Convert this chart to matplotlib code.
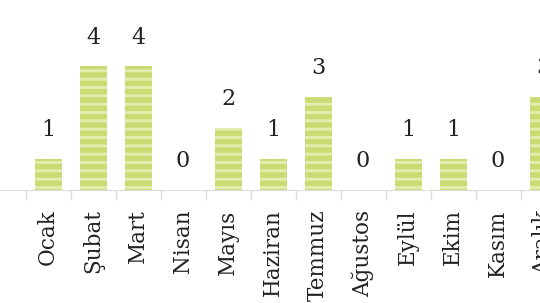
import matplotlib
matplotlib.use("Agg")
import matplotlib.pyplot as plt
import matplotlib.transforms as mtransforms
import numpy as np

months = ["Ocak", "Şubat", "Mart", "Nisan", "Mayıs", "Haziran", "Temmuz",
          "Ağustos", "Eylül", "Ekim", "Kasım", "Aralık"]
counts = [1, 4, 4, 0, 2, 1, 3, 0, 1, 1, 0, 3]

plt.rcParams['font.family'] = ['DejaVu Serif']
plt.rcParams['hatch.linewidth'] = 2.0
plt.rcParams['hatch.color'] = '#e4edb0'
plt.rcParams['savefig.bbox'] = 'standard'

fig = plt.figure(figsize=(5.4, 3.03), dpi=100)
ax = fig.add_axes([0, 0.373, 1, 0.627])
x = np.arange(len(months))
bars = ax.bar(x, counts, width=0.6, color='#c9db72', edgecolor='#e4edb0',
              linewidth=0, hatch='--')
for xi, v in zip(x, counts):
    t = ax.text(xi, v + 0.92, str(v), ha='center', va='center', fontsize=16,
                color='#222222', clip_on=True)
    t.set_clip_box(fig.bbox)
    t.set_in_layout(False)

# category labels drawn as texts under the axis (clipped at the figure edge)
lab_tr = mtransforms.blended_transform_factory(
    ax.transData,
    ax.transAxes + mtransforms.ScaledTranslation(0, -14 / 72, fig.dpi_scale_trans))
for xi, m in zip(x, months):
    t = ax.text(xi, 0, m, transform=lab_tr, rotation=90, ha='center', va='top',
                fontsize=15.5, color='#222222', clip_on=True)
    t.set_clip_box(fig.bbox)
    t.set_in_layout(False)

ax.set_xlim(-1.067, 10.933)
ax.set_ylim(0, 6.13)
for s in ['top', 'right', 'left']:
    ax.spines[s].set_visible(False)
ax.spines['bottom'].set_color('#dddddd')
ax.set_yticks([])
ax.set_xticks([])
ax.set_xticks(np.arange(-0.5, 11, 1), minor=True)
ax.tick_params(axis='x', which='minor', length=7, color='#dddddd', width=1,
               labelbottom=False)

fig.savefig("out.png", dpi=100, bbox_inches=None)
